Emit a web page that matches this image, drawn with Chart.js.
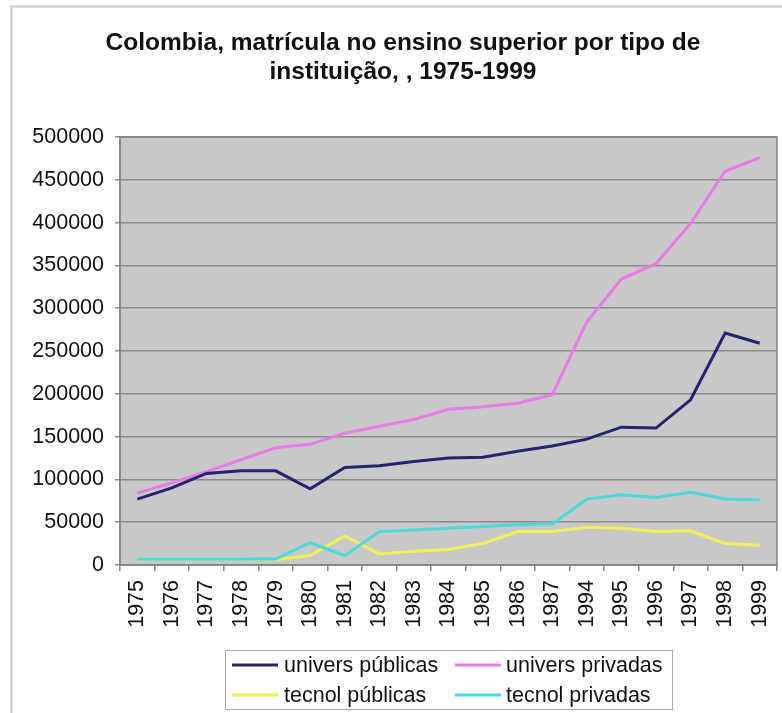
<!DOCTYPE html>
<html>
<head>
<meta charset="utf-8">
<script src="https://cdn.jsdelivr.net/npm/chart.js@4/dist/chart.umd.min.js"></script>
<style>
  html, body { margin: 0; padding: 0; background: #ffffff; }
  canvas { display: block; }
</style>
</head>
<body>
<canvas id="c" width="782" height="713"></canvas>
<script>
// ---- data ----
const categories = ['1975','1976','1977','1978','1979','1980','1981','1982','1983','1984','1985','1986','1987','1994','1995','1996','1997','1998','1999'];
const univPublicas  = [77000, 90000, 107000, 110000, 110000, 89000, 114000, 116000, 121000, 125000, 126000, 133000, 139000, 147000, 161000, 160000, 193000, 271000, 259000];
const univPrivadas  = [84000, 96000, 109000, 123000, 137000, 141000, 154000, 162000, 170000, 182000, 185000, 189000, 199000, 284000, 334000, 352000, 399000, 460000, 476000];
const tecnolPublicas = [7000, 7000, 7000, 7000, 6000, 11000, 34000, 13000, 16000, 18000, 25000, 39000, 39000, 44000, 43000, 39000, 40000, 25000, 23000];
const tecnolPrivadas = [7000, 7000, 7000, 7000, 7000, 26000, 11000, 39000, 41000, 43000, 45000, 47000, 48000, 77000, 82000, 79000, 85000, 77000, 76000];
const seriesNames = ['univers públicas', 'univers privadas', 'tecnol públicas', 'tecnol privadas'];
const titleLines = ['Colombia, matrícula no ensino superior por tipo de', 'instituição, , 1975-1999'];
const yMin = 0, yMax = 500000, yStep = 50000;

const FONT = '"Liberation Sans", Arial, Helvetica, sans-serif';
const colors = ['#23236f', '#e77ce7', '#f0ef55', '#4adada'];
const seriesData = [univPublicas, univPrivadas, tecnolPublicas, tecnolPrivadas];

const decor = {
  id: 'decor',
  beforeDraw(chart) {
    const {ctx, chartArea: a} = chart;
    ctx.save();
    ctx.fillStyle = '#ffffff';
    ctx.fillRect(0, 0, chart.width, chart.height);
    // outer chart border
    ctx.strokeStyle = '#d2d2d2';
    ctx.lineWidth = 2.5;
    ctx.strokeRect(11.5, 6.5, 900, 900);
    // plot background
    ctx.fillStyle = '#c8c8c8';
    ctx.fillRect(a.left, a.top, a.right - a.left, a.bottom - a.top);
    // title
    ctx.fillStyle = '#111111';
    ctx.font = 'bold 24.5px ' + FONT;
    ctx.textAlign = 'center';
    ctx.textBaseline = 'alphabetic';
    ctx.fillText(titleLines[0], 403, 50);
    ctx.fillText(titleLines[1], 403, 79);
    ctx.restore();
  },
  beforeDatasetsDraw(chart) {
    const {ctx, chartArea: a} = chart;
    ctx.save();
    ctx.strokeStyle = '#858585';
    ctx.lineWidth = 1.5;
    ctx.strokeRect(a.left, a.top, a.right - a.left, a.bottom - a.top);
    ctx.restore();
  },
  afterDraw(chart) {
    const {ctx} = chart;
    ctx.save();
    // legend box
    ctx.strokeStyle = '#a8a8a8';
    ctx.lineWidth = 1;
    ctx.strokeRect(225.5, 650.5, 447, 59);
    const sx = [232, 455], tx = [284, 506], ry = [665, 695];
    ctx.font = '21.5px ' + FONT;
    ctx.textBaseline = 'middle';
    ctx.textAlign = 'left';
    chart.data.datasets.forEach((ds, i) => {
      const col = i % 2, row = Math.floor(i / 2);
      ctx.strokeStyle = ds.borderColor;
      ctx.lineWidth = 3;
      ctx.beginPath();
      ctx.moveTo(sx[col], ry[row]);
      ctx.lineTo(sx[col] + 46, ry[row]);
      ctx.stroke();
      ctx.fillStyle = '#111111';
      ctx.fillText(ds.label, tx[col], ry[row] + 1);
    });
    ctx.restore();
  }
};

new Chart(document.getElementById('c'), {
  type: 'line',
  data: {
    labels: categories,
    datasets: seriesNames.map((name, i) => ({
      label: name,
      data: seriesData[i],
      borderColor: colors[i],
      backgroundColor: colors[i],
      borderWidth: 3,
      pointRadius: 0,
      tension: 0,
      fill: false,
      order: i === 2 ? 4 : i
    }))
  },
  options: {
    responsive: false,
    animation: false,
    devicePixelRatio: 1,
    layout: { padding: { left: 0, right: 5, top: 137, bottom: 73 } },
    plugins: {
      legend: { display: false },
      title: { display: false },
      tooltip: { enabled: false }
    },
    scales: {
      x: {
        type: 'category',
        offset: true,
        grid: { display: true, drawOnChartArea: false, drawTicks: true, tickLength: 6, offset: true, color: '#858585', lineWidth: 1.5 },
        border: { display: true, color: '#858585', width: 1.5 },
        ticks: { autoSkip: false, maxRotation: 90, minRotation: 90, padding: 9, color: '#111111', font: { family: FONT, size: 21.5 } },
        afterFit(s) { s.height = 75; s.paddingLeft = 0; s.paddingRight = 0; }
      },
      y: {
        min: yMin,
        max: yMax,
        ticks: { stepSize: yStep, padding: 11, color: '#111111', font: { family: FONT, size: 21.5 }, callback: v => String(v) },
        grid: { color: '#8c8c8c', lineWidth: 1.5, tickLength: 5, drawTicks: true },
        border: { display: true, color: '#858585', width: 1.5 },
        afterFit(s) { s.width = 120; }
      }
    }
  },
  plugins: [decor]
});
</script>
</body>
</html>
